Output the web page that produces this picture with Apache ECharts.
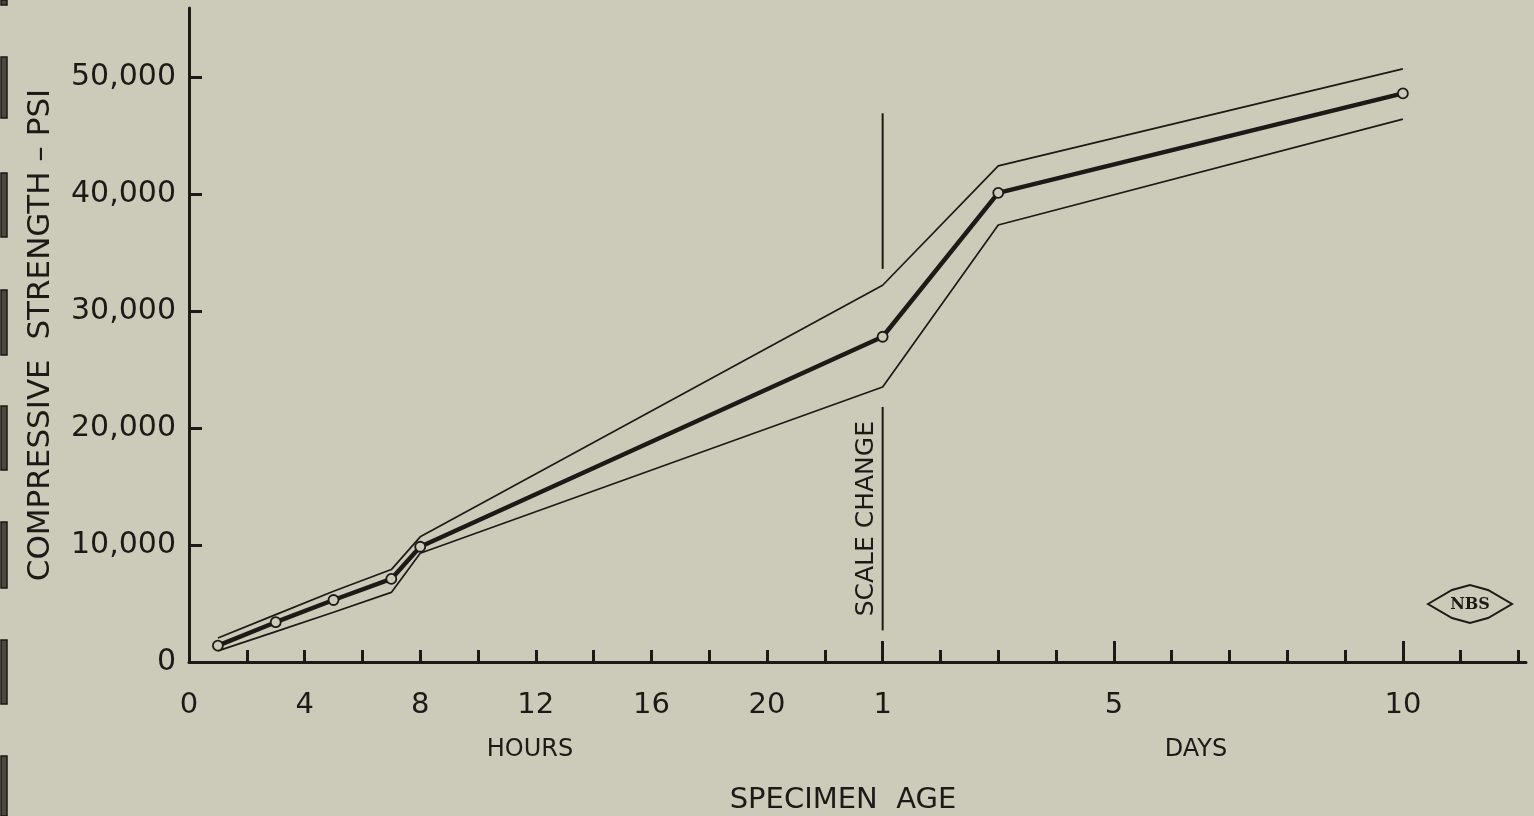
<!DOCTYPE html>
<html>
<head>
<meta charset="utf-8">
<script src="https://cdn.jsdelivr.net/npm/echarts@6/dist/echarts.min.js"></script>
<style>
  html, body { margin: 0; padding: 0; background: #cccbb9; }
  #chart { width: 1534px; height: 816px; }
</style>
</head>
<body>
<div id="chart"></div>
<script>
// ---- Data ----
// Ages: hours up to 1 day, then days (scale change at 1 day)
const hourAges   = [1, 3, 5, 7, 8];
const dayAges    = [1, 3, 10];
// Compressive strength, psi
const meanHours  = [1400, 3400, 5300, 7100, 9850];
const meanDays   = [27800, 40100, 48600];
const upperHours = [2050, 4050, 6050, 7900, 10700];
const upperDays  = [32200, 42400, 50700];
const lowerHours = [950, 2600, 4250, 5950, 9300];
const lowerDays  = [23500, 37350, 46400];
// Tick labels
const hourTickLabels = [0, 4, 8, 12, 16, 20];
const dayTickLabels  = [1, 5, 10];
const yTickValues    = [0, 10000, 20000, 30000, 40000, 50000];
// "Scale change" marker segments (psi) drawn at 1 day
const scaleLineUpper = [33600, 46900];
const scaleLineLower = [2700, 21800];

// Axis position: one unit = 2 hours on the hour part, 1 day on the day part
const HOUR_UNIT = 2;              // hours per unit
const DAY_START = 24 / HOUR_UNIT; // 1 day sits at unit 12
const posHour = h => h / HOUR_UNIT;
const posDay  = d => DAY_START + (d - 1);

function buildSeries(hv, dv) {
  const pts = hourAges.map((h, i) => [posHour(h), hv[i]]);
  dayAges.forEach((d, i) => pts.push([posDay(d), dv[i]]));
  return pts;
}

const BG = '#cccbb9';
const INK = '#1b1a17';
const FONT = 'DejaVu Sans';

const labelMap = {};
hourTickLabels.forEach(h => labelMap[posHour(h)] = String(h));
dayTickLabels.forEach(d => labelMap[posDay(d)] = String(d));
const labelPositions = Object.keys(labelMap).map(Number);
const bigTicks = dayTickLabels.map(posDay);
const smallTicks = [];
for (let i = 1; i <= 23; i++) smallTicks.push(i);

const X_MAX = 23.13;

const chart = echarts.init(document.getElementById('chart'));

const option = {
  backgroundColor: BG,
  animation: false,
  grid: { left: 189, right: 8, top: 8, bottom: 154 },
  xAxis: [{
    type: 'value', min: 0, max: X_MAX, interval: 1,
    axisLine: { lineStyle: { color: INK, width: 3 } },
    axisTick: { inside: true, length: 12, customValues: smallTicks, lineStyle: { color: INK, width: 3 } },
    axisLabel: {
      customValues: labelPositions,
      formatter: v => labelMap[v] !== undefined ? labelMap[v] : '',
      color: INK, fontFamily: FONT, fontSize: 29, margin: 29
    },
    splitLine: { show: false }
  }, {
    type: 'value', min: 0, max: X_MAX, position: 'bottom',
    axisLine: { show: false },
    axisTick: { inside: true, length: 21, customValues: bigTicks, lineStyle: { color: INK, width: 3 } },
    axisLabel: { show: false },
    splitLine: { show: false }
  }],
  yAxis: {
    type: 'value', min: 0, max: 55900,
    name: 'COMPRESSIVE  STRENGTH – PSI',
    nameLocation: 'middle', nameGap: 133, nameRotate: 90,
    nameTextStyle: { color: INK, fontFamily: FONT, fontSize: 31 },
    axisLine: { show: true, lineStyle: { color: INK, width: 3 } },
    axisTick: { show: true, inside: true, length: 13, customValues: yTickValues, lineStyle: { color: INK, width: 3 } },
    axisLabel: {
      customValues: yTickValues,
      formatter: v => v.toLocaleString('en-US'),
      color: INK, fontFamily: FONT, fontSize: 30, margin: 13
    },
    splitLine: { show: false }
  },
  series: [
    { type: 'line', data: buildSeries(upperHours, upperDays), symbol: 'none',
      lineStyle: { color: INK, width: 1.7 }, z: 3 },
    { type: 'line', data: buildSeries(lowerHours, lowerDays), symbol: 'none',
      lineStyle: { color: INK, width: 1.7 }, z: 3 },
    { type: 'line', data: buildSeries(meanHours, meanDays), symbol: 'circle', symbolSize: 10,
      lineStyle: { color: INK, width: 4.5 },
      itemStyle: { color: BG, borderColor: INK, borderWidth: 1.8 }, z: 5 },
    { type: 'line', data: scaleLineUpper.map(v => [DAY_START, v]), symbol: 'none',
      lineStyle: { color: INK, width: 2 }, z: 2 },
    { type: 'line', data: scaleLineLower.map(v => [DAY_START, v]), symbol: 'none',
      lineStyle: { color: INK, width: 2 }, z: 2 }
  ]
};
chart.setOption(option);

// Annotations placed relative to the axes
const xDay1 = chart.convertToPixel({ xAxisIndex: 0 }, DAY_START);
const yMid = chart.convertToPixel({ yAxisIndex: 0 }, (scaleLineLower[0] + scaleLineLower[1]) / 2);

const bindMarks = [[0, 5], [57, 118], [173, 237], [290, 355], [406, 470], [522, 588], [640, 704], [756, 816]];
const graphics = [];
bindMarks.forEach(([a, b]) => {
  graphics.push({ type: 'rect', shape: { x: 1, y: a, width: 6, height: b - a },
    style: { fill: '#4a4940', stroke: '#1a1915', lineWidth: 1.5 }, silent: true });
});
graphics.push(
  { type: 'text', x: xDay1 - 16, y: yMid, rotation: Math.PI / 2,
    style: { text: 'SCALE CHANGE', font: '25px "DejaVu Sans"', fill: INK, align: 'center', verticalAlign: 'middle' } },
  { type: 'text', x: 530, y: 750,
    style: { text: 'HOURS', font: '24px "DejaVu Sans"', fill: INK, align: 'center', verticalAlign: 'middle' } },
  { type: 'text', x: 1196, y: 750,
    style: { text: 'DAYS', font: '24px "DejaVu Sans"', fill: INK, align: 'center', verticalAlign: 'middle' } },
  { type: 'text', x: 843, y: 800,
    style: { text: 'SPECIMEN  AGE', font: '29px "DejaVu Sans"', fill: INK, align: 'center', verticalAlign: 'middle' } },
  { type: 'polygon', shape: { points: [[1428, 604], [1452, 590], [1470, 585], [1488, 590], [1512, 604], [1488, 618], [1470, 623], [1452, 618]] },
    style: { fill: 'none', stroke: INK, lineWidth: 2 } },
  { type: 'text', x: 1470, y: 605,
    style: { text: 'NBS', font: 'bold 16px "DejaVu Serif"', fill: INK, align: 'center', verticalAlign: 'middle' } }
);
chart.setOption({ graphic: graphics });
</script>
</body>
</html>
